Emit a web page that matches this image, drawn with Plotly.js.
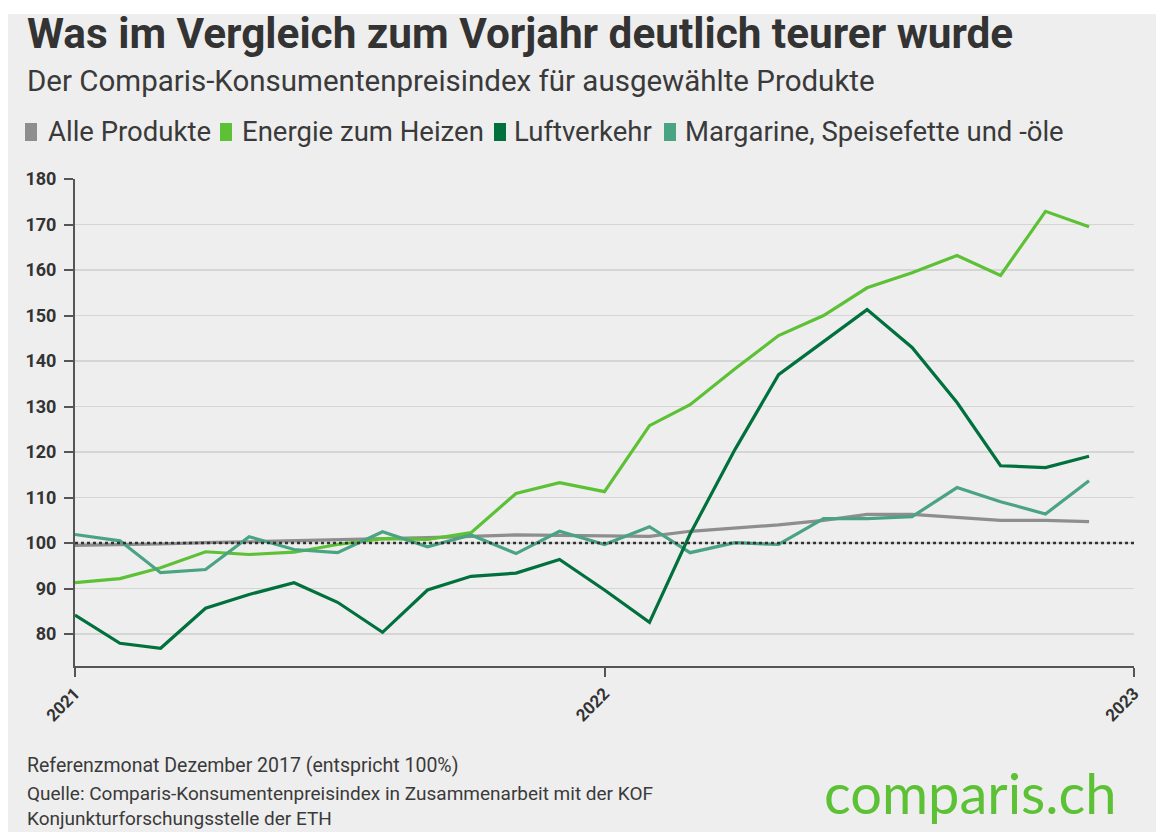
<!DOCTYPE html>
<html><head><meta charset="utf-8">
<script src="https://cdn.plot.ly/plotly-3.0.1.min.js"></script>
<style>
html,body{margin:0;padding:0;background:#ffffff;width:1156px;height:832px;overflow:hidden;}
#panel{position:absolute;left:8px;top:14px;width:1148px;height:818px;background:#eeeeee;}
#chart{position:absolute;left:0;top:0;width:1156px;height:832px;}
</style></head><body>
<div id="panel"></div>
<div id="chart"></div>
<script>
// Monthly data, Jan 2021 - Dec 2022
const months = ["2021-01-01","2021-02-01","2021-03-01","2021-04-01","2021-05-01","2021-06-01","2021-07-01","2021-08-01","2021-09-01","2021-10-01","2021-11-01","2021-12-01",
"2022-01-01","2022-02-01","2022-03-01","2022-04-01","2022-05-01","2022-06-01","2022-07-01","2022-08-01","2022-09-01","2022-10-01","2022-11-01","2022-12-01"];
const alleProdukte = [99.5,99.6,99.8,100.1,100.3,100.5,100.7,101.0,101.2,101.5,101.8,101.7,101.6,101.5,102.6,103.4,104.0,105.0,106.3,106.3,105.6,105.0,105.0,104.7];
const energieHeizen = [91.3,92.2,94.6,98.1,97.5,98.0,99.7,101.0,100.8,102.3,110.9,113.3,111.3,125.8,130.4,138.3,145.6,150.0,156.1,159.4,163.2,158.8,172.9,169.5];
const luftverkehr = [84.2,78.0,76.9,85.7,88.7,91.3,87.0,80.4,89.7,92.7,93.4,96.4,89.7,82.6,102.0,120.6,137.0,144.3,151.3,143.0,130.9,117.0,116.6,119.1];
const margarine = [101.9,100.5,93.5,94.2,101.4,98.6,97.9,102.5,99.2,101.8,97.7,102.6,99.7,103.6,97.9,100.1,99.7,105.4,105.4,105.8,112.2,109.1,106.4,113.7];
const seriesNames = ["Alle Produkte","Energie zum Heizen","Luftverkehr","Margarine, Speisefette und -öle"];
const seriesColors = ["#8e8e8e","#5cc135","#00703c","#4aa383"];
const yTicks = [80,90,100,110,120,130,140,150,160,170,180];
const xTicks = ["2021-01-01","2022-01-01","2023-01-01"];
const xTickText = ["2021","2022","2023"];
const referenceValue = 100;

const FONT = "Roboto, 'Open Sans', sans-serif";
const W=1156, H=832, ML=75, MR=22, MT=179, MB=166;
const PW=W-ML-MR, PH=H-MT-MB;
const ax = px => (px-ML)/PW;
const ay = py => (H-MB-py)/PH;

const allSeries=[alleProdukte,energieHeizen,luftverkehr,margarine];
const order=[0,1,3,2];
const traces = order.map(i=>({
  x: months, y: allSeries[i],
  type:"scatter", mode:"lines", name:seriesNames[i],
  line:{color:seriesColors[i], width:3.2},
  showlegend:false
}));

function ann(text,px,py,size,color,extra){
  return Object.assign({text:text, x:ax(px), y:ay(py), xref:"paper", yref:"paper", xanchor:"left", yanchor:"middle",
    showarrow:false, font:{family:FONT,size:size,color:color}}, extra||{});
}
// legend layout (page px positions)
const legendSwatchX = [25,220,494,664];
const legendTextX = [46,240,512,683];
const annotations = [
  ann("<b>Was im Vergleich zum Vorjahr deutlich teurer wurde</b>",25,33,42.3,"#333333"),
  ann("Der Comparis-Konsumentenpreisindex für ausgewählte Produkte",25,81,29.5,"#3a3a3a"),
  ann("Referenzmonat Dezember 2017 (entspricht 100%)",25,765,19.5,"#3a3a3a"),
  ann("Quelle: Comparis-Konsumentenpreisindex in Zusammenarbeit mit der KOF<br>Konjunkturforschungsstelle der ETH",25,806,18.5,"#3a3a3a",{align:"left"}),
  ann("comparis.ch",822,792,56,"#5cc135",{font:{family:"Lato, 'Open Sans', sans-serif",size:56,color:"#5cc135"}})
];
annotations[3].font.size=19;
seriesNames.forEach((n,i)=>annotations.push(ann(n,legendTextX[i],131,27.5,"#3a3a3a")));

const shapes = [{type:"line", xref:"paper", x0:0, x1:1, yref:"y", y0:referenceValue, y1:referenceValue, layer:"above",
    line:{color:"#333333", width:2.5, dash:"dot"}}];
seriesColors.forEach((c,i)=>{
  const x0=ax(legendSwatchX[i]), x1=ax(legendSwatchX[i]+12), y0=ay(141), y1=ay(123);
  shapes.push({type:"rect", xref:"paper", yref:"paper", x0:x0, x1:x1, y0:y0, y1:y1, fillcolor:c, line:{width:0}, layer:"above"});
});

const layout = {
  width:W, height:H,
  margin:{l:ML,r:MR,t:MT,b:MB,pad:0},
  paper_bgcolor:"rgba(0,0,0,0)", plot_bgcolor:"rgba(0,0,0,0)",
  showlegend:false,
  xaxis:{type:"date", range:["2021-01-01","2023-01-01"], tickmode:"array", tickvals:xTicks, ticktext:xTickText,
    tickangle:-45, ticks:"outside", ticklen:9, tickwidth:2, tickcolor:"#555555",
    showline:true, linecolor:"#555555", linewidth:2, showgrid:false, zeroline:false,
    tickfont:{family:FONT,size:17,color:"#333333",weight:"bold"}},
  yaxis:{range:[73,180], tickmode:"array", tickvals:yTicks, ticks:"outside", ticklen:9, tickwidth:2, tickcolor:"#555555",
    ticklabelstandoff:4,
    showline:true, linecolor:"#555555", linewidth:2, showgrid:true, gridcolor:"#d5d5d5", gridwidth:1.5, zeroline:false,
    tickfont:{family:FONT,size:18,color:"#333333",weight:"bold"}},
  shapes:shapes,
  annotations:annotations
};
Plotly.newPlot("chart", traces, layout, {displayModeBar:false, staticPlot:true});
</script></body></html>
